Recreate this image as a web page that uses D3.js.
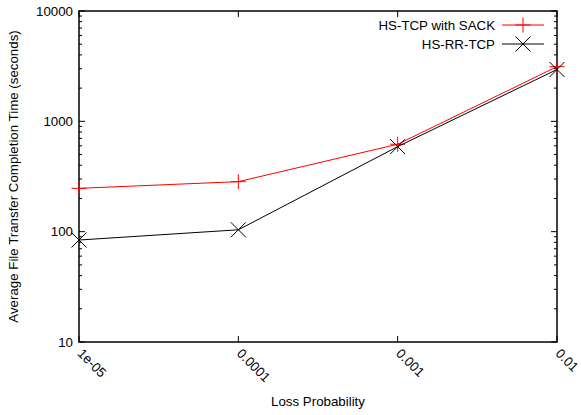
<!DOCTYPE html>
<html>
<head>
<meta charset="utf-8">
<script src="https://cdn.jsdelivr.net/npm/d3@7"></script>
<style>
  html, body { margin: 0; padding: 0; background: #fff; }
  svg { display: block; }
  text { font-family: "Liberation Sans", Arial, Helvetica, sans-serif; font-size: 13.3px; fill: #000; }
</style>
</head>
<body>
<svg id="chart" width="581" height="415"></svg>
<script>
// Loss probabilities on the x axis
const lossProb = [1e-5, 1e-4, 1e-3, 1e-2];
const xTickLabels = ["1e-05", "0.0001", "0.001", "0.01"];
// Average completion times (seconds)
const sackTimes = [247, 284, 620, 3130];
const rrTimes = [84, 104, 590, 2950];
const yTickValues = [10, 100, 1000, 10000];
const yTickLabels = ["10", "100", "1000", "10000"];
const seriesNames = ["HS-TCP with SACK", "HS-RR-TCP"];
const seriesColors = ["#ff0000", "#000000"];

const svg = d3.select("#chart");
const plotL = 79, plotR = 557, plotT = 11, plotB = 342;

const x = d3.scaleLog().domain([1e-5, 1e-2]).range([plotL, plotR]);
const y = d3.scaleLog().domain([10, 10000]).range([plotB, plotT]);

// minor ticks on the log y axis
const minorY = [];
for (let d = 10; d < 10000; d *= 10) {
  for (let k = 2; k <= 9; k++) minorY.push(d * k);
}

const g = svg.append("g");

// y ticks, left and right
function yTicks(xPos, dir) {
  yTickValues.forEach(v => {
    g.append("line").attr("x1", xPos).attr("x2", xPos + dir * 6)
      .attr("y1", y(v)).attr("y2", y(v)).attr("stroke", "#000").attr("stroke-width", 1);
  });
  minorY.forEach(v => {
    g.append("line").attr("x1", xPos).attr("x2", xPos + dir * 3)
      .attr("y1", y(v)).attr("y2", y(v)).attr("stroke", "#000").attr("stroke-width", 1);
  });
}
yTicks(plotL, 1);
yTicks(plotR, -1);

// x ticks, bottom and top
lossProb.forEach(v => {
  g.append("line").attr("x1", x(v)).attr("x2", x(v)).attr("y1", plotB).attr("y2", plotB - 6)
    .attr("stroke", "#000");
  g.append("line").attr("x1", x(v)).attr("x2", x(v)).attr("y1", plotT).attr("y2", plotT + 6)
    .attr("stroke", "#000");
});

// frame
g.append("rect").attr("x", plotL).attr("y", plotT).attr("width", plotR - plotL).attr("height", plotB - plotT)
  .attr("fill", "none").attr("stroke", "#000").attr("stroke-width", 1.5);

// y tick labels
yTickValues.forEach((v, i) => {
  g.append("text").attr("x", plotL - 6).attr("y", y(v)).attr("dy", "0.35em")
    .attr("text-anchor", "end").text(yTickLabels[i]);
});

// x tick labels, rotated
lossProb.forEach((v, i) => {
  g.append("text")
    .attr("transform", `translate(${x(v) + 1},${plotB + 9}) rotate(45)`)
    .attr("text-anchor", "start").attr("dy", "0.35em")
    .text(xTickLabels[i]);
});

// axis titles
g.append("text").attr("x", 318).attr("y", 406).attr("text-anchor", "middle")
  .text("Loss Probability");
g.append("text").attr("transform", `translate(18,${(plotT + plotB) / 2}) rotate(-90)`)
  .attr("text-anchor", "middle").text("Average File Transfer Completion Time (seconds)");

// series
const line = d3.line().x(d => x(d[0])).y(d => y(d[1]));
const series = [sackTimes, rrTimes];
const ms = 7.5;

function plusMarker(sel, cx, cy, color) {
  sel.append("path").attr("d", `M${cx - ms},${cy}H${cx + ms}M${cx},${cy - ms}V${cy + ms}`)
    .attr("stroke", color).attr("stroke-width", 1).attr("fill", "none");
}
function crossMarker(sel, cx, cy, color) {
  const s = ms;
  sel.append("path").attr("d", `M${cx - s},${cy - s}L${cx + s},${cy + s}M${cx - s},${cy + s}L${cx + s},${cy - s}`)
    .attr("stroke", color).attr("stroke-width", 1).attr("fill", "none");
}
const markers = [plusMarker, crossMarker];

series.forEach((vals, si) => {
  const pts = lossProb.map((p, i) => [p, vals[i]]);
  g.append("path").datum(pts).attr("d", line).attr("fill", "none")
    .attr("stroke", seriesColors[si]).attr("stroke-width", 1);
  pts.forEach(p => markers[si](g, x(p[0]), y(p[1]), seriesColors[si]));
});

// legend
seriesNames.forEach((name, i) => {
  const ly = 25 + i * 19;
  g.append("text").attr("x", 495).attr("y", ly).attr("dy", "0.35em").attr("text-anchor", "end").text(name);
  g.append("line").attr("x1", 502).attr("x2", 544).attr("y1", ly).attr("y2", ly)
    .attr("stroke", seriesColors[i]).attr("stroke-width", 1);
  markers[i](g, 523, ly, seriesColors[i]);
});
</script>
</body>
</html>
